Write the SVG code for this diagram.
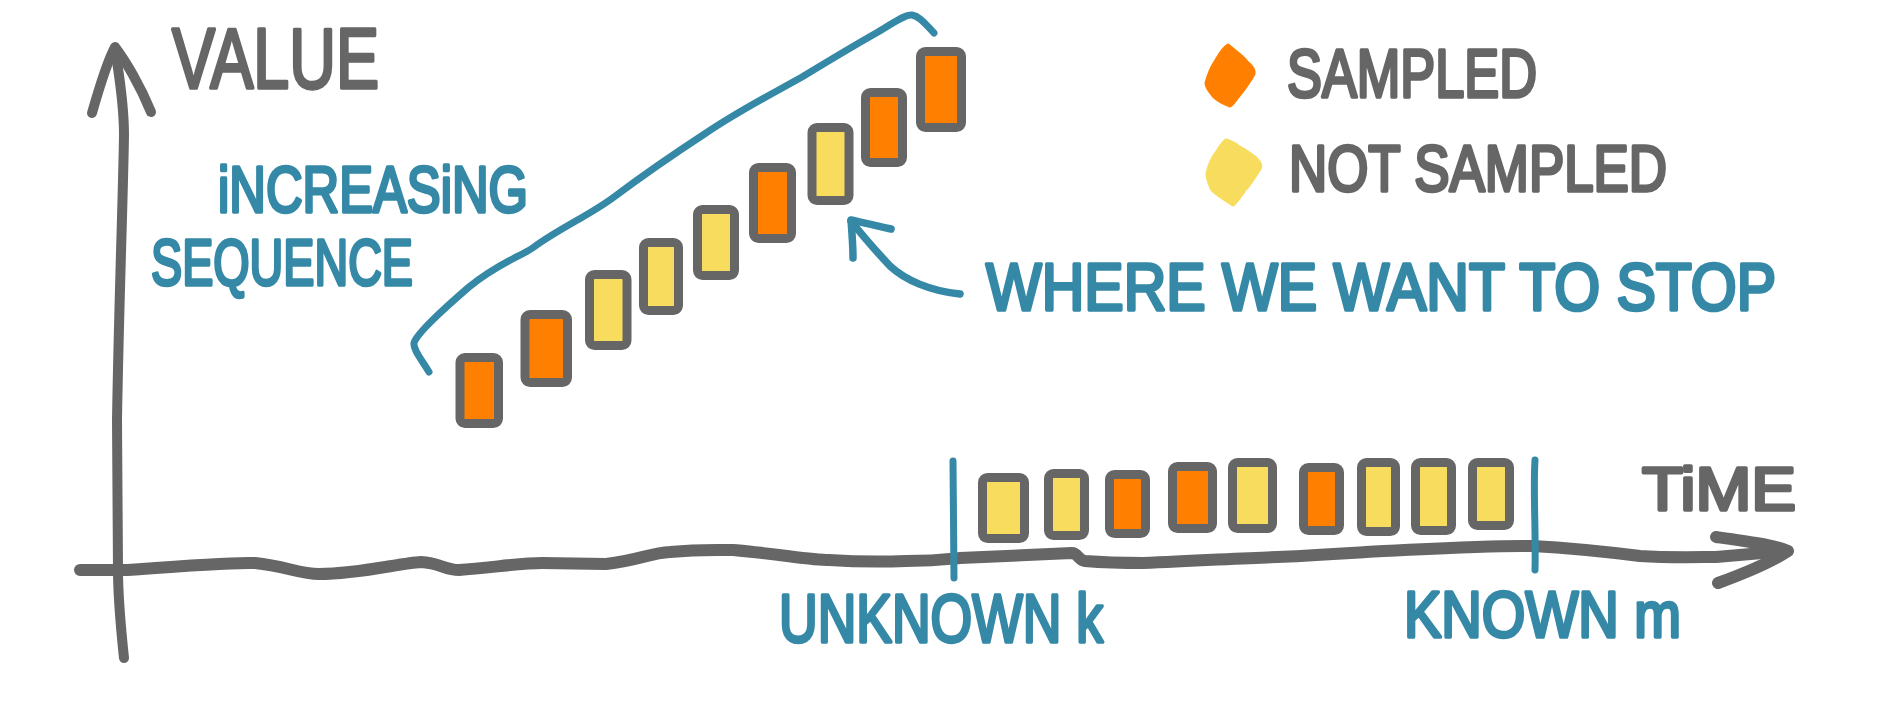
<svg xmlns="http://www.w3.org/2000/svg" width="1893" height="702" viewBox="0 0 1893 702">
<style>
.ax{fill:none;stroke:#666666;stroke-linecap:round;stroke-linejoin:round}
.bl{fill:none;stroke:#3589A7;stroke-linecap:round;stroke-linejoin:round}
.box{stroke:#666666;stroke-width:9;stroke-linejoin:round}
.or{fill:#FF8000}
.ye{fill:#F7DC5E}
.hand{font-family:"Liberation Sans",Arial,sans-serif;stroke-width:3.5;stroke-linejoin:round;stroke-linecap:round;paint-order:stroke}
.g{fill:#666666;stroke:#666666}
.b{fill:#3589A7;stroke:#3589A7}
</style>
<rect width="1893" height="702" fill="#ffffff"/>

<g id="axes">
  <path class="ax" stroke-width="10" d="M124,658 C120,620 118,590 118,570 L117,420 C119,300 123,200 124,135 C124,100 118,70 115,48"/>
  <path class="ax" stroke-width="10" d="M92,113 C100,85 108,60 115,47 C125,60 140,85 151,112"/>
  <path class="ax" stroke-width="12" d="M80,570 L128,570 C180,566 230,562 255,563 C285,566 300,574 319,574 C360,574 400,563 421,562 C440,563 445,570 459,570 C490,568 520,563 542,563 L606,564 C640,560 650,553 670,552 C700,549 720,550 733,550 C780,554 810,560 829,560 C860,562 880,562 906,561 C935,561 950,559 960,558 L1072,553 C1078,553 1078,560 1085,561 C1110,563 1130,563 1143,563 C1200,561 1240,558 1277,557 C1320,555 1350,553 1366,552 C1430,549 1490,545 1532,546 C1570,548 1600,551 1640,556 C1670,558 1700,557 1716,557 L1786,551"/>
  <path class="ax" stroke-width="12" d="M1716,537 C1745,541 1775,545 1788,551 C1770,563 1740,575 1718,583"/>
</g>

<g id="staircase">
  <rect class="box or" x="460" y="357.5" width="38.5" height="66" rx="5"/>
  <rect class="box or" x="525" y="314.5" width="42.5" height="68" rx="5"/>
  <rect class="box ye" x="589.5" y="274.5" width="37.5" height="71" rx="5"/>
  <rect class="box ye" x="643.5" y="242.5" width="35" height="68" rx="5"/>
  <rect class="box ye" x="697.5" y="209.5" width="37" height="66" rx="5"/>
  <rect class="box or" x="753.5" y="167.5" width="38" height="71" rx="5"/>
  <rect class="box ye" x="812" y="127.5" width="37" height="73" rx="5"/>
  <rect class="box or" x="865.5" y="92.5" width="37" height="70" rx="5"/>
  <rect class="box or" x="920.5" y="51.5" width="41" height="76" rx="5"/>
</g>

<g id="timeline">
  <rect class="box ye" x="982.5" y="477.5" width="42" height="61" rx="5"/>
  <rect class="box ye" x="1048.5" y="473.5" width="36" height="62" rx="5"/>
  <rect class="box or" x="1109.5" y="474.5" width="36" height="59" rx="5"/>
  <rect class="box or" x="1172.5" y="466.5" width="40" height="62" rx="5"/>
  <rect class="box ye" x="1232.5" y="462.5" width="40" height="66" rx="5"/>
  <rect class="box or" x="1303.5" y="467.5" width="36" height="63" rx="5"/>
  <rect class="box ye" x="1361.5" y="462.5" width="34" height="69" rx="5"/>
  <rect class="box ye" x="1415.5" y="462.5" width="36" height="68" rx="5"/>
  <rect class="box ye" x="1472.5" y="462.5" width="37" height="63" rx="5"/>
</g>

<g id="connectors">
  <path id="tick-k" class="bl" stroke-width="7" d="M953,461 L954,578"/>
  <path id="tick-m" class="bl" stroke-width="7" d="M1535,460 C1533,490 1536,530 1535,570"/>
  <path id="bracket" class="bl" stroke-width="7" d="M429,372 C422,360 413,350 414,343 C416,335 440,312 469,287 C500,262 520,257 534,247 C560,228 590,215 614,197 C650,170 680,150 706,133 C740,110 770,95 802,77 C830,60 855,45 878,32 C895,22 905,14 912,15 C920,16 926,25 934,33"/>
  <path id="pointer" class="bl" stroke-width="7.5" d="M960,294 C930,291 905,280 890,266 C875,250 862,235 851,221"/>
  <path class="bl" stroke-width="7.5" d="M891,229 C875,225 860,222 851,220 C852,233 853,245 853,258"/>
</g>

<g id="legend">
  <path fill="#FF8000" stroke="#FF8000" stroke-width="3" stroke-linejoin="round" d="M1228,45 C1236,52 1244,57 1247,62 C1252,66 1255,70 1254,74 C1248,85 1242,92 1238,97 C1234,102 1232,106 1230,106 C1222,103 1217,100 1214,97 C1210,92 1206,88 1206,83 C1208,75 1212,66 1216,60 C1220,53 1224,47 1228,45 Z"/>
  <path fill="#F7DC5E" stroke="#F7DC5E" stroke-width="3" stroke-linejoin="round" d="M1226,140 C1232,142 1236,144 1238,146 C1246,150 1252,155 1256,158 C1260,162 1262,166 1260,169 C1254,178 1250,185 1245,190 C1240,197 1236,203 1233,205 C1225,200 1217,195 1212,190 C1209,184 1207,178 1207,173 C1209,165 1212,158 1216,153 C1219,148 1222,143 1226,140 Z"/>
  <text class="hand g" x="1287" y="97" font-size="68" textLength="250" lengthAdjust="spacingAndGlyphs">SAMPLED</text>
  <text class="hand g" x="1289" y="191" font-size="65" textLength="378" lengthAdjust="spacingAndGlyphs">NOT SAMPLED</text>
</g>

<g id="labels">
  <text class="hand g" x="172" y="88" font-size="86" textLength="207" lengthAdjust="spacingAndGlyphs">VALUE</text>
  <text class="hand b" x="218" y="212" font-size="65" textLength="310" lengthAdjust="spacingAndGlyphs">iNCREASiNG</text>
  <text class="hand b" x="151" y="285" font-size="65" textLength="262" lengthAdjust="spacingAndGlyphs">SEQUENCE</text>
  <text class="hand b" x="986" y="310" font-size="66" textLength="790" lengthAdjust="spacingAndGlyphs">WHERE WE WANT TO STOP</text>
  <text class="hand g" x="1642" y="510" font-size="62" textLength="154" lengthAdjust="spacingAndGlyphs">TiME</text>
  <text class="hand b" x="779" y="642" font-size="68" textLength="324" lengthAdjust="spacingAndGlyphs">UNKNOWN k</text>
  <text class="hand b" x="1404" y="637" font-size="65" textLength="277" lengthAdjust="spacingAndGlyphs">KNOWN m</text>
</g>
</svg>
